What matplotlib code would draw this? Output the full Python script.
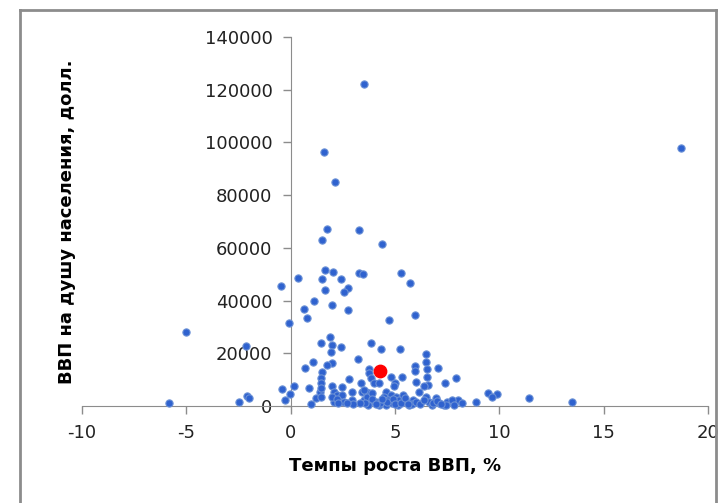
import matplotlib
matplotlib.use("Agg")
import matplotlib.pyplot as plt
from matplotlib.lines import Line2D

# темпы роста ВВП, % / ВВП на душу населения, долл.
growth = [18.7, 3.5, 1.61, 2.11, 1.76, 3.28, 1.50, 4.38, 1.63, 2.05,
          3.28, 3.47, 5.31, 0.35, 1.50, 2.41, 5.72, -0.45, 2.73, 1.63,
          2.54, 1.14, 2.0, 0.64, 2.73, 5.96, 0.77, 4.73, -0.1, -5.0,
          1.87, 1.44, 3.85, -2.15, 2.0, 2.43, 4.32, 5.22, 1.92, 6.47,
          3.23, 1.07, 6.5, 2.0, 1.76, 5.97, 0.69, 7.07, 3.76, 6.52,
          1.52, 5.97, 3.76, 1.47, 3.84, 4.81, 5.35, 6.52, 7.9, 2.8,
          1.47, 3.36, 4.0, 4.24, 5.0, 6.0, 7.38, 6.59, 0.16, 2.0,
          2.48, -0.4, 0.9, 1.41, 2.08, 2.96, 3.44, 3.6, 4.56, 6.16,
          -0.03, 2.24, 2.48, 3.76, 4.8, 4.96, 6.4, 9.46, 9.91, 9.67,
          11.43, 13.5, 8.9, 7.8, 8.03, 8.23, -5.82, -2.47, -2.1, -2.0,
          -0.27, 0.96, 1.2, 1.44, 2.08, 2.32, 2.56, 2.96, 3.52, 3.76,
          3.68, 3.72, 3.92, 4.08, 4.24, 4.48, 4.56, 4.68, 4.88, 5.04,
          5.12, 5.2, 5.36, 5.52, 5.68, 5.84, 6.47, 6.63, 6.79, 6.95,
          7.11, 7.35, 7.51, 7.75, 7.83, 7.44, 1.45, 2.0, 2.2, 2.27,
          3.5, 3.55, 4.3, 4.6, 4.9, 5.0, 5.3, 5.5, 5.8, 6.0,
          6.2, 6.4, 6.8, 7.0, 7.2, 3.9, 4.1, 5.6, 4.4, 3.3,
          3.0, 2.7]
gdp_pc = [98000, 122000, 96500, 84800, 67200, 66800, 62800, 61300, 51500, 51000,
          50600, 49900, 50500, 48700, 48100, 48100, 46500, 45600, 44800, 44100,
          43100, 39900, 38300, 36800, 36400, 34500, 33400, 32500, 31400, 28000,
          26200, 23800, 23800, 22800, 23100, 22200, 21800, 21800, 20600, 19800,
          17700, 16800, 16800, 16200, 15600, 15200, 14300, 14500, 14000, 13900,
          13000, 13100, 12400, 10500, 10500, 11100, 11100, 11100, 10600, 10400,
          8600, 8600, 8600, 8600, 8600, 9000, 8600, 7900, 7600, 7600,
          7300, 6300, 6800, 5400, 5400, 5400, 5400, 5400, 5400, 5400,
          4400, 4200, 4200, 4800, 4200, 7400, 7400, 5000, 4500, 3500,
          3200, 1700, 1700, 1900, 2300, 1300, 1100, 1500, 3700, 3000,
          2100, 600, 2900, 3500, 1700, 1700, 1700, 2300, 2300, 1700,
          3500, 400, 4800, 1700, 400, 3500, 400, 2300, 1000, 3500,
          400, 2300, 4200, 1700, 400, 2300, 3500, 1700, 400, 2900,
          1000, 400, 1700, 2300, 400, 500, 6800, 3400, 2800, 1100,
          6200, 1100, 1200, 1500, 2800, 600, 1200, 3000, 800, 1500,
          600, 2200, 1300, 2000, 700, 2800, 700, 600, 2500, 1200,
          600, 1200]

russia_growth = [4.29]
russia_gdp = [13200]

plt.rcParams['font.family'] = ['DejaVu Sans']
plt.rcParams['axes.unicode_minus'] = False

fig = plt.figure(figsize=(7.27, 5.03), dpi=100)
ax = fig.add_axes([82/727, 97/503, 626/727, 369/503])

ax.scatter(growth, gdp_pc, s=27, color='#2f62cf', edgecolors='#6a90d6',
           linewidths=0.8, zorder=3, clip_on=False)
ax.scatter(russia_growth, russia_gdp, s=80, color='#ff0000', zorder=4)

ax.set_xlim(-10, 20)
ax.set_ylim(0, 140000)
ax.set_xticks(range(-10, 21, 5))
ax.set_yticks(range(0, 140001, 20000))

for s in ['top', 'right']:
    ax.spines[s].set_visible(False)
ax.spines['left'].set_position(('data', 0))
ax.spines['left'].set_color('#8c8c8c')
ax.spines['bottom'].set_color('#8c8c8c')
ax.tick_params(axis='both', colors='#8c8c8c', labelcolor='#222222',
               labelsize=13, length=6, width=1)
ax.tick_params(axis='y', pad=7)
ax.tick_params(axis='x', pad=7)

fig.text(395/727, 1 - 466/503, 'Темпы роста ВВП, %', ha='center', va='center',
         fontsize=13, fontweight='bold')
fig.text(67/727, 1 - 222/503, 'ВВП на душу населения, долл.', ha='center',
         va='center', rotation=90, fontsize=13, fontweight='bold')

# рамка вокруг диаграммы
frame = dict(color='#8c8c8c', linewidth=2, transform=fig.transFigure)
fig.add_artist(Line2D([20/727, 20/727], [0, 1 - 10/503], **frame))
fig.add_artist(Line2D([20/727, 716/727], [1 - 10/503, 1 - 10/503], **frame))
fig.add_artist(Line2D([716/727, 716/727], [0, 1 - 10/503], **frame))

fig.savefig('out.png', dpi=100)
